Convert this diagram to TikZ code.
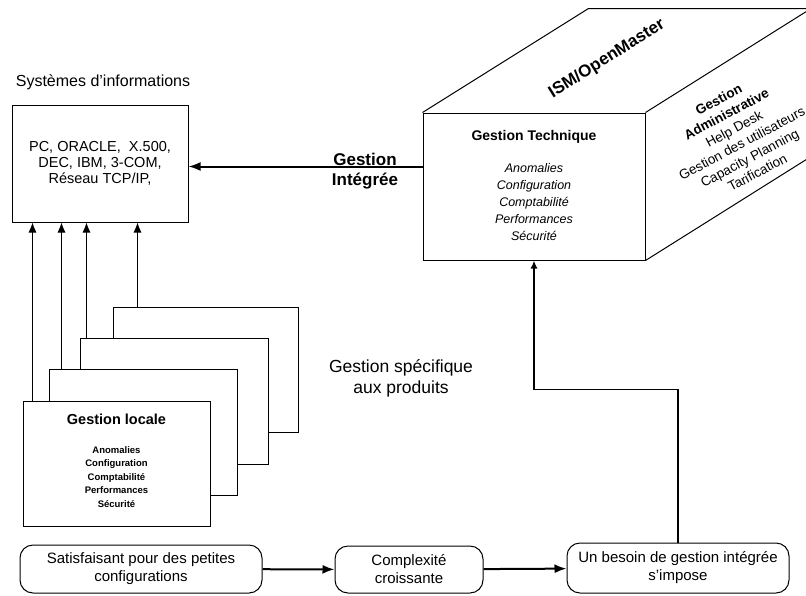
\documentclass[tikz,border=0pt]{standalone}
\usepackage{fontspec}
\setmainfont{Liberation Sans}
\usetikzlibrary{arrows.meta,positioning}

\begin{document}
\begin{tikzpicture}[x=1pt,y=-1pt,
    boite/.style={draw,line width=1pt,inner sep=0pt,align=center},
    carte/.style={boite,fill=white,minimum width=187pt,minimum height=125pt},
    etape/.style={draw,line width=1pt,rounded corners=13pt,inner sep=0pt,align=center,
        font=\fontsize{15}{18}\selectfont},
    fleche/.style={line width=2pt,-{Latex[length=12pt,width=9pt]}},
    montee/.style={line width=0.9pt,-{Latex[length=10pt,width=8pt]}}]
    \useasboundingbox (0,0) rectangle (806,595);
    \clip (0,0) rectangle (806,595);
    % systemes d'informations
    \node[font=\fontsize{16}{16}\selectfont] (titre) at (103,82) {Systèmes d'informations};
    \node[boite,minimum width=176pt,minimum height=117pt,font=\fontsize{14.5}{16}\selectfont] (si) at (100,163.5)
        {PC, ORACLE,~~X.500,\\DEC, IBM, 3-COM,\\Réseau TCP/IP,};
    % gestion locale (cartes empilees)
    \node[carte,minimum width=185pt] (loc4) at (205.5,369.5) {};
    \node[carte,minimum width=188pt,minimum height=126pt] (loc3) at (174,401) {};
    \node[carte,minimum width=188pt,minimum height=126pt] (loc2) at (143,432) {};
    \node[carte] (loc1) at (116.5,463.5) {};
    \node[font=\bfseries\fontsize{14.5}{15}\selectfont] (locT) at (116.5,419) {Gestion locale};
    \node[align=center,font=\bfseries\fontsize{9.5}{13.5}\selectfont] (locL) at (116.5,477)
        {Anomalies\\Configuration\\Comptabilité\\Performances\\Sécurité};
    \draw[montee] ([xshift=10pt]loc1.north west) -- ([xshift=10pt]loc1.north west |- si.south);
    \draw[montee] ([xshift=13pt]loc2.north west) -- ([xshift=13pt]loc2.north west |- si.south);
    \draw[montee] ([xshift=7pt]loc3.north west) -- ([xshift=7pt]loc3.north west |- si.south);
    \draw[montee] ([xshift=25pt]loc4.north west) -- ([xshift=25pt]loc4.north west |- si.south);
    \node[align=center,font=\fontsize{17.5}{21}\selectfont] (spec) at (401,378)
        {Gestion spécifique\\aux produits};
    % ISM/OpenMaster
    \node[boite,minimum width=222pt,minimum height=147pt] (gt) at (534,186.5) {};
    \node[font=\bfseries\fontsize{14}{17}\selectfont] (gtT) at (534,137) {Gestion Technique};
    \node[align=center,font=\itshape\fontsize{12.5}{17}\selectfont] (gtL) at (534,202)
        {Anomalies\\Configuration\\Comptabilité\\Performances\\Sécurité};
    \draw[line width=1pt] (gt.north west) -- ++(166,-104) -- ++(300,0);
    \draw[line width=1pt] (gt.north east) -- ++(250,-157);
    \draw[line width=1pt] (gt.south east) -- ++(250,-157);
    \node[rotate=32,font=\bfseries\fontsize{17}{17}\selectfont] (ism) at (607,59) {ISM/OpenMaster};
    \node[rotate=28,align=center,font=\fontsize{13.5}{16.5}\selectfont] (admin) at (738,136)
        {\bfseries Gestion\\\bfseries Administrative\\Help Desk\\Gestion des utilisateurs\\Capacity Planning\\Tarification};
    \draw[fleche] ([yshift=20pt]gt.west) -- ([yshift=20pt]gt.west -| si.east);
    \node[align=center,font=\bfseries\fontsize{17}{20}\selectfont] (integ) at (365,171) {Gestion\\Intégrée};
    % evolution
    \node[etape,minimum width=242pt,minimum height=48pt] (sat) at (141,569)
        {Satisfaisant pour des petites\\configurations};
    \node[etape,minimum width=148pt,minimum height=47pt] (cplx) at (409,569.5)
        {Complexité\\croissante};
    \node[etape,minimum width=222pt,minimum height=50pt] (besoin) at (678,568)
        {Un besoin de gestion intégrée\\s'impose};
    \draw[fleche] (sat) -- (cplx);
    \draw[fleche] (cplx) -- (besoin);
    \draw[line width=1.8pt,-{Latex[length=8pt,width=7pt]}] (besoin.north) -- ++(0,-153) -| (gt.south);
\end{tikzpicture}
\end{document}
